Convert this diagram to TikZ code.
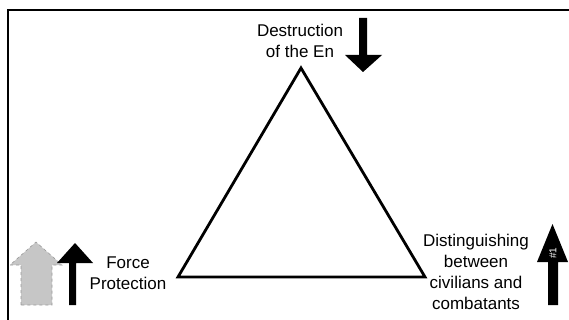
\documentclass[tikz,border=0pt]{standalone}
\usepackage{fontspec}
\setmainfont{Liberation Sans}
\begin{document}
\begin{tikzpicture}[x=1pt,y=-1pt,
  lbl/.style={align=center,inner sep=0pt,font=\fontsize{17}{21}\selectfont},
  blackarrow/.style={fill=black,draw=none},
  greyarrow/.style={fill=gray!45,draw=gray!80,dashed,line width=0.6pt},
  tri/.style={draw=black,line width=2.8pt,line join=miter,fill=white}]
\useasboundingbox (0,0) rectangle (569,320);
% frame edges
\draw[line width=2pt] (7.5,320) -- (7.5,10.5) -- (569,10.5);
% triangle
\coordinate (apex) at (301,68);
\coordinate (bl) at (178,277);
\coordinate (br) at (425,277);
\draw[tri] (apex) -- (bl) -- (br) -- cycle;
% labels
\node[lbl] (top) at (300,41) {Destruction\\of the En};
\node[lbl] (left) at (128,273) {Force\\Protection};
\node[lbl] (right) at (476,272) {Distinguishing\\between\\civilians and\\combatants};
% downward arrow at the apex
\fill[blackarrow] (359,18) -- (367,18) -- (367,55) -- (382,55) -- (363,72) -- (345,55) -- (359,55) -- cycle;
% grey up arrow
\draw[greyarrow] (21,305) -- (21,265) -- (10,265) -- (36,242) -- (62,265) -- (52,265) -- (52,305) -- cycle;
% black up arrow
\fill[blackarrow] (69,305) -- (69,263) -- (57,263) -- (75,243) -- (93,263) -- (76,263) -- (76,305) -- cycle;
% black up arrow with rank
\fill[blackarrow] (548,305) -- (548,262) -- (537,262) -- (552.5,224) -- (568,262) -- (558,262) -- (558,305) -- cycle;
\node[text=white,rotate=90,inner sep=0pt,font=\fontsize{10}{10}\selectfont] (rank) at (553,253) {\#1};
\end{tikzpicture}
\end{document}
